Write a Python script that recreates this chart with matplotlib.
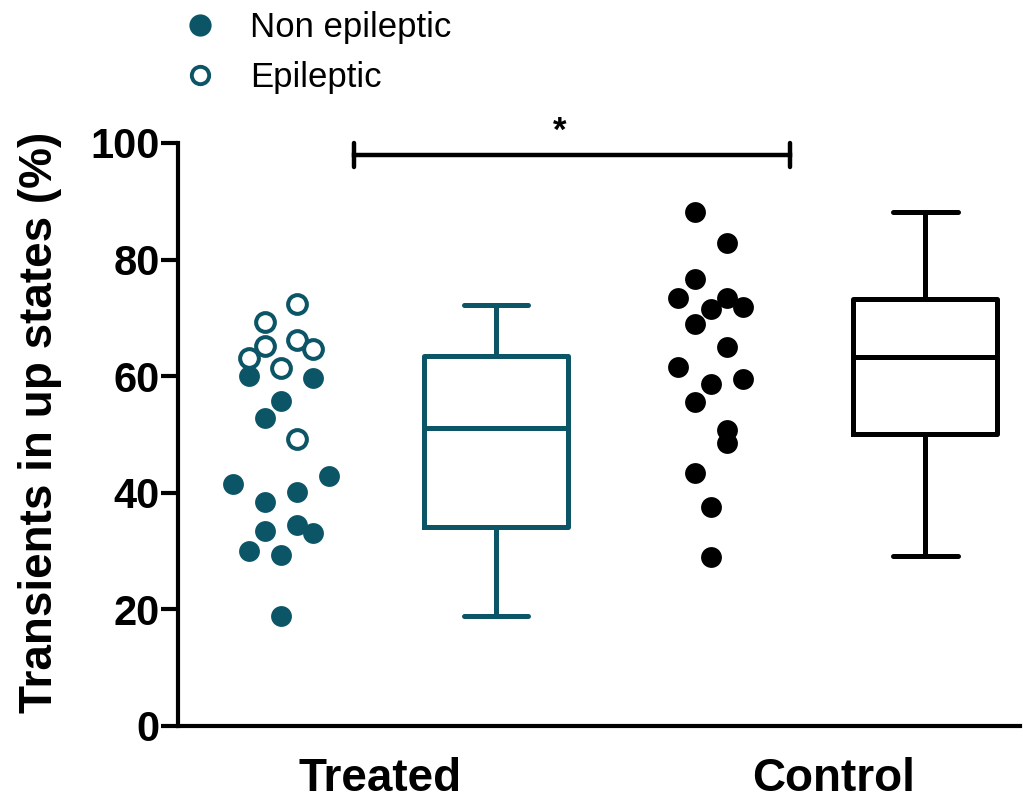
import numpy as np
import matplotlib
matplotlib.use('Agg')
from matplotlib import pyplot as plt
from matplotlib.lines import Line2D

############# Data ############
treated_nonepi = [60.0, 59.7, 55.7, 52.8, 42.8, 41.5, 40.2, 38.4, 34.4, 33.5, 33.1, 30.0, 29.4, 18.9]
treated_nonepi_col = [-2, 2, 0, -1, 3, -3, 1, -1, 1, -1, 2, -2, 0, 0]
treated_epi = [72.3, 69.3, 66.2, 65.2, 64.6, 63.1, 61.4, 49.3]
treated_epi_col = [1, -1, 1, -1, 2, -2, 0, 1]
control = [88.2, 82.9, 76.7, 73.4, 73.4, 71.9, 71.5, 69.0, 65.0, 61.6, 59.5, 58.7,
           55.5, 50.8, 48.5, 43.4, 37.6, 29.0]
control_col = [-1, 1, -1, -2, 1, 2, 0, -1, 1, -2, 2, 0, -1, 1, 1, -1, 0, 0]

# box stats: whisker low, q1, median, q3, whisker high
treated_box = [18.8, 34.2, 51.1, 63.5, 72.2]
control_box = [29.1, 50.1, 63.3, 73.3, 88.2]

group_labels = ['Treated', 'Control']
legend_labels = ['Non epileptic', 'Epileptic']
ylabel = 'Transients in up states (%)'
######################################################

TEAL = '#0b5566'
JIT = 0.075
FONT = 'Liberation Sans'

plt.rcParams['font.family'] = [FONT, 'DejaVu Sans']

fig = plt.figure(figsize=(10.23, 8.02), dpi=100)
ax = fig.add_axes([0.174, 0.0948, 0.823, 0.7269])

# scatter columns
ax.plot(1 + JIT*np.array(treated_nonepi_col), treated_nonepi, 'o', ms=15,
        mfc=TEAL, mec=TEAL, mew=0, clip_on=False, zorder=3)
ax.plot(1 + JIT*np.array(treated_epi_col), treated_epi, 'o', ms=13.5,
        mfc='white', mec=TEAL, mew=2.9, clip_on=False, zorder=3)
ax.plot(3 + JIT*np.array(control_col), control, 'o', ms=15,
        mfc='black', mec='black', mew=0, clip_on=False, zorder=3)

# box plots
def box_stats(s):
    return dict(whislo=s[0], q1=s[1], med=s[2], q3=s[3], whishi=s[4], fliers=[])

for pos, s, c in [(2, treated_box, TEAL), (4, control_box, 'black')]:
    ax.bxp([box_stats(s)], positions=[pos], widths=0.67, showfliers=False,
           boxprops=dict(color=c, lw=3.6),
           medianprops=dict(color=c, lw=3.6),
           whiskerprops=dict(color=c, lw=3.6),
           capprops=dict(color=c, lw=3.6, solid_capstyle='round'),
           capwidths=0.3, manage_ticks=False)

# significance bar
ax.plot([1.34, 3.37], [97.9, 97.9], color='black', lw=3.2, clip_on=False)
for xb in [1.34, 3.37]:
    ax.plot([xb, xb], [95.8, 100.0], color='black', lw=3.2, clip_on=False,
            solid_capstyle='round')
ax.text(2.295, 99.2, '*', ha='center', va='bottom', fontsize=25,
        fontweight='bold')

ax.set_xlim(0.52, 4.44)
ax.set_ylim(0, 100)
ax.set_yticks([0, 20, 40, 60, 80, 100])
ax.set_xticks([1.46, 3.57])
ax.set_xticklabels(group_labels, fontsize=33, fontweight='bold')
ax.tick_params(axis='x', length=0, pad=22)
ax.tick_params(axis='y', length=12, width=3, labelsize=30, pad=1)
for lab in ax.get_yticklabels():
    lab.set_fontweight('bold')
ax.set_ylabel(ylabel, fontsize=33, fontweight='bold')
ax.yaxis.set_label_coords(-0.138, 0.521)

for side in ['top', 'right']:
    ax.spines[side].set_visible(False)
for side in ['left', 'bottom']:
    ax.spines[side].set_linewidth(3)

# legend (drawn by hand, Prism style)
W, H = 1023, 802
fig.add_artist(Line2D([200/W], [1 - 25/H], ls='none', marker='o', ms=16,
                      mfc=TEAL, mec=TEAL, mew=0))
fig.add_artist(Line2D([200/W], [1 - 75/H], ls='none', marker='o', ms=12.5,
                      mfc='white', mec=TEAL, mew=2.8))
fig.text(250/W, 1 - 27/H, legend_labels[0], fontsize=25, va='center', ha='left')
fig.text(250/W, 1 - 77/H, legend_labels[1], fontsize=25, va='center', ha='left')

fig.savefig('out.png', dpi=100)
